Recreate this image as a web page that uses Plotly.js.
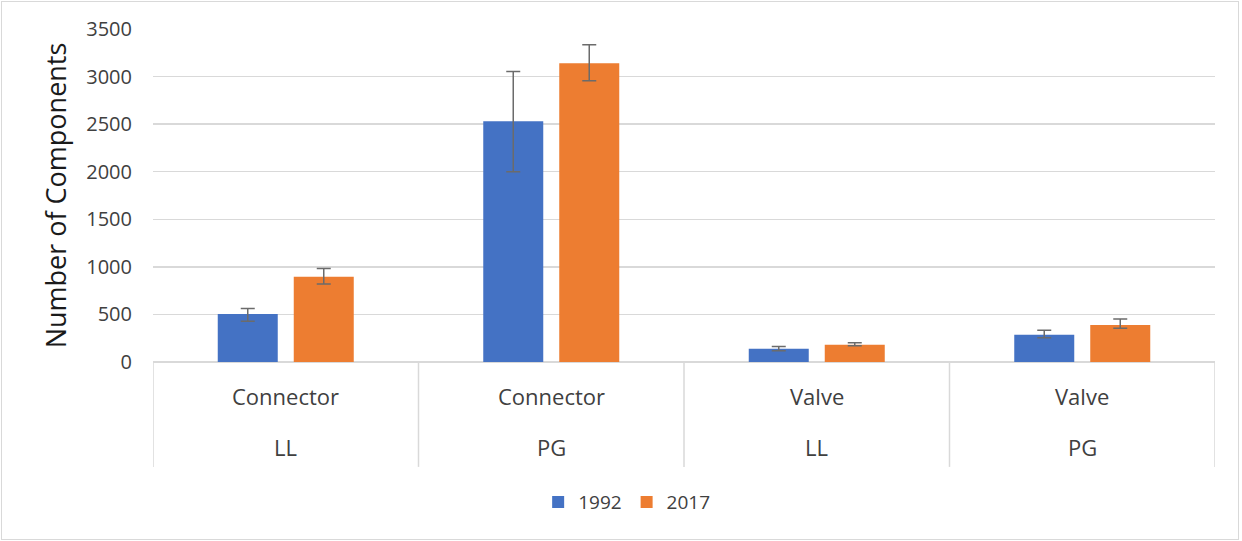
<!DOCTYPE html>
<html>
<head>
<meta charset="utf-8">
<script src="https://cdn.plot.ly/plotly-3.0.1.min.js"></script>
<style>
html,body{margin:0;padding:0;background:#fff;}
#chart{width:1242px;height:541px;}
#frame{position:absolute;left:1px;top:1px;width:1236px;height:537px;border:1px solid #d9d9d9;pointer-events:none;}
</style>
</head>
<body>
<div id="chart"></div>
<div id="frame"></div>
<script>
// Data
const componentTypes = ["Connector", "Connector", "Valve", "Valve"];
const sites = ["LL", "PG", "LL", "PG"];
const values1992 = [505, 2530, 140, 286];
const errPlus1992 = [57, 522, 24, 48];
const errMinus1992 = [78, 530, 21, 32];
const values2017 = [895, 3140, 182, 390];
const errPlus2017 = [87, 195, 21, 62];
const errMinus2017 = [76, 183, 11, 36];
const seriesNames = ["1992", "2017"];
const yTicks = [0, 500, 1000, 1500, 2000, 2500, 3000, 3500];

const xIdx = componentTypes.map((_, i) => i);

const errStyle = {type: "data", symmetric: false, color: "#6b6b6b", thickness: 1.5, width: 7};

const traces = [
  {
    type: "bar", name: seriesNames[0], x: xIdx, y: values1992,
    marker: {color: "#4472C4"},
    error_y: Object.assign({array: errPlus1992, arrayminus: errMinus1992}, errStyle),
    hoverinfo: "skip"
  },
  {
    type: "bar", name: seriesNames[1], x: xIdx, y: values2017,
    marker: {color: "#ED7D31"},
    error_y: Object.assign({array: errPlus2017, arrayminus: errMinus2017}, errStyle),
    hoverinfo: "skip"
  }
];

const annotations = [];
xIdx.forEach(i => {
  annotations.push({x: i, y: -0.1035, xref: "x", yref: "paper", text: componentTypes[i],
    showarrow: false, xanchor: "center", yanchor: "middle",
    font: {family: "Open Sans", size: 22, color: "#404040"}});
  annotations.push({x: i, y: -0.256, xref: "x", yref: "paper", text: sites[i],
    showarrow: false, xanchor: "center", yanchor: "middle",
    font: {family: "Open Sans", size: 22, color: "#404040"}});
});

const shapes = [];
for (let i = 0; i <= componentTypes.length; i++) {
  shapes.push({type: "line", xref: "x", yref: "paper", x0: i - 0.5, x1: i - 0.5,
    y0: 0, y1: -0.315, line: {color: "#d9d9d9", width: 1.5}});
}

const layout = {
  width: 1242, height: 541,
  margin: {l: 153, r: 27, t: 29, b: 178.5, pad: 0},
  paper_bgcolor: "#ffffff", plot_bgcolor: "#ffffff",
  barmode: "group", bargap: 0.4275, bargroupgap: 0.2105,
  font: {family: "Open Sans", color: "#404040"},
  showlegend: true,
  legend: {orientation: "h", x: 0.446, y: -0.421, xanchor: "center", yanchor: "middle",
    font: {family: "Open Sans", size: 19, color: "#404040"}, traceorder: "normal"},
  xaxis: {
    type: "linear", range: [-0.5, componentTypes.length - 0.5],
    showticklabels: false, showgrid: false, zeroline: false,
    showline: false, ticks: "", fixedrange: true
  },
  yaxis: {
    range: [0, 3500], tickvals: yTicks, ticktext: yTicks.map(String),
    showgrid: true, gridcolor: "#d9d9d9", gridwidth: 1.5,
    zeroline: true, zerolinecolor: "#d9d9d9", zerolinewidth: 1.5,
    showline: false, ticks: "", ticklabelstandoff: 20,
    tickfont: {family: "Open Sans", size: 20, color: "#404040"},
    title: {text: "Number of Components", standoff: 11,
      font: {family: "Open Sans", size: 27, color: "#1a1a1a"}}
  },
  annotations: annotations,
  shapes: shapes
};

Plotly.newPlot("chart", traces, layout, {staticPlot: true, displayModeBar: false});
</script>
</body>
</html>
